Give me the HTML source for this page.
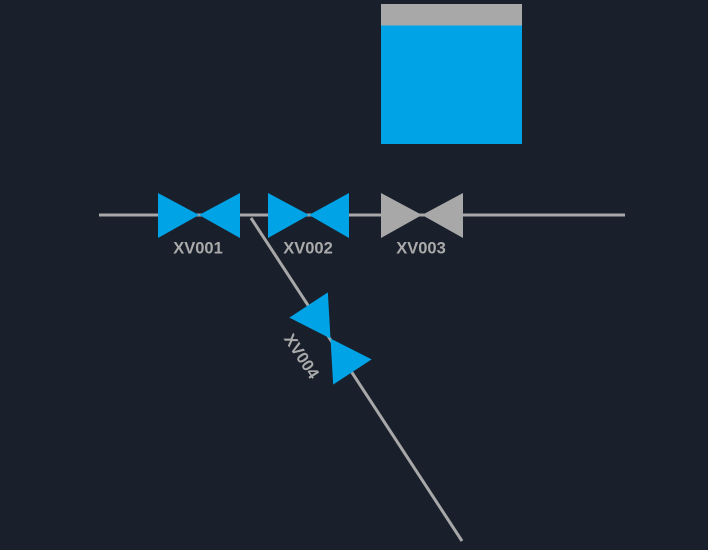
<!DOCTYPE html>
<html><head><meta charset="utf-8"><style>
html,body{margin:0;padding:0;background:#19202c;}
svg{display:block;}
text{font-family:"Liberation Sans",sans-serif;font-weight:bold;font-size:16.5px;fill:#aaaaaa;}
</style></head><body>
<svg width="708" height="550" viewBox="0 0 708 550" xmlns="http://www.w3.org/2000/svg">
<rect width="708" height="550" fill="#19202c"/>
<rect x="381" y="4" width="141" height="140" fill="#00a3e6"/>
<rect x="381" y="4" width="141" height="21.5" fill="#a8a8a8"/>
<line x1="99" y1="215" x2="625" y2="215" stroke="#a8a8a8" stroke-width="3"/>
<line x1="251" y1="218" x2="462" y2="541" stroke="#a8a8a8" stroke-width="3"/>
<polygon points="158,193 199,215 158,238" fill="#00a3e6"/>
<polygon points="240,193 199,215 240,238" fill="#00a3e6"/>
<polygon points="268,193 309,215 268,238" fill="#00a3e6"/>
<polygon points="349,193 309,215 349,238" fill="#00a3e6"/>
<polygon points="381,193 422,215 381,238" fill="#a8a8a8"/>
<polygon points="463,193 422,215 463,238" fill="#a8a8a8"/>
<text x="198" y="253.5" text-anchor="middle">XV001</text>
<text x="308" y="253.5" text-anchor="middle">XV002</text>
<text x="421" y="253.5" text-anchor="middle">XV003</text>
<g transform="translate(330.5,338.5) rotate(56.8)">
<polygon points="-40,-23 0,0 -40,23" fill="#00a3e6"/>
<polygon points="40,-23 0,0 40,23" fill="#00a3e6"/>
</g>
<text transform="translate(302,356) rotate(56.8)" text-anchor="middle" dy="6">XV004</text>
</svg>
</body></html>
